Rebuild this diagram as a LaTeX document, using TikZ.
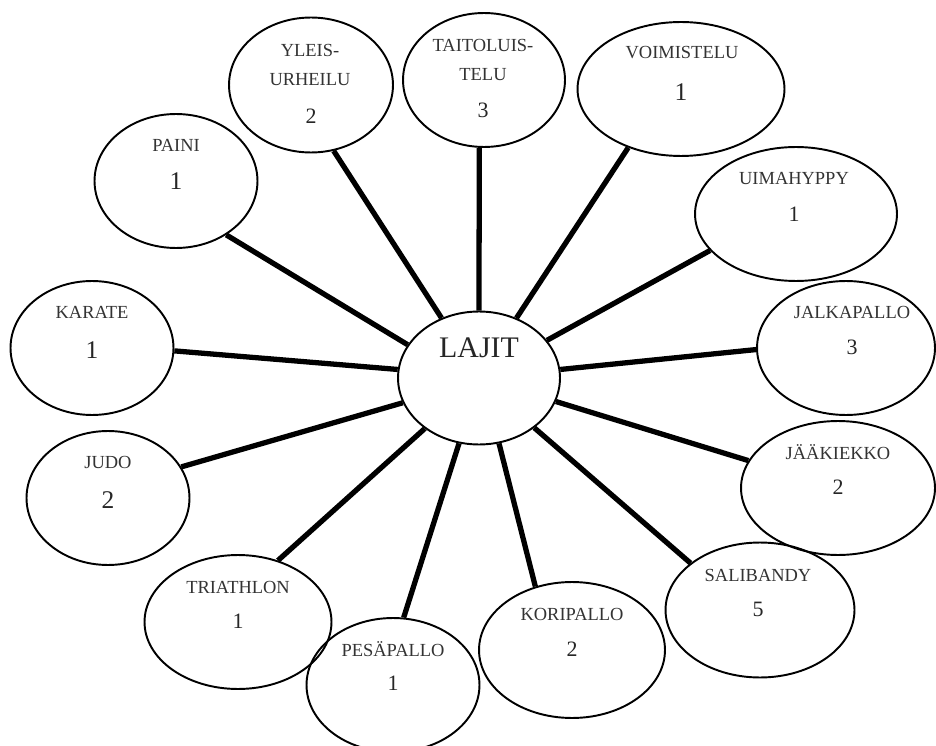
\documentclass[tikz,border=0pt]{standalone}
\usepackage{fontspec}
\setmainfont{Liberation Serif}
\usetikzlibrary{shapes.geometric}

\begin{document}
\begin{tikzpicture}[
  x=0.02cm, y=-0.02cm,
  laji/.style={ellipse, draw, line width=1.1pt, inner sep=0pt, minimum height=2.68cm},
  nimi/.style={font=\fontsize{10.5}{17}\selectfont, text=black!80, inner sep=0pt, align=center},
  luku/.style={font=\fontsize{12.5}{14}\selectfont, text=black!85, inner sep=0pt},
  iso/.style={font=\fontsize{14.5}{16}\selectfont, text=black!85, inner sep=0pt},
  yhteys/.style={line width=3pt}
]
  \useasboundingbox (0,0) rectangle (936,746);

  % Center
  \node[laji, minimum width=3.24cm, minimum height=2.66cm] (lajit) at (479,378) {};
  \node[font=\fontsize{17}{20}\selectfont, text=black!85, inner sep=0pt] (lajitT) at (479,348) {LAJIT};

  % Left side
  \node[laji, minimum width=3.26cm] (paini) at (176,181) {};
  \node[nimi] (painiN) at (176,145) {PAINI};
  \node[iso] (painiL) at (176,181) {1};

  \node[laji, minimum width=3.26cm] (karate) at (92,348) {};
  \node[nimi] (karateN) at (92,312) {KARATE};
  \node[iso] (karateL) at (92,350) {1};

  \node[laji, minimum width=3.26cm] (judo) at (108,498) {};
  \node[nimi] (judoN) at (108,462) {JUDO};
  \node[iso] (judoL) at (108,500) {2};

  \node[laji, minimum width=3.74cm] (tri) at (238,622) {};
  \node[nimi] (triN) at (238,587) {TRIATHLON};
  \node[luku] (triL) at (238,621) {1};

  % Top
  \node[laji, minimum width=3.28cm, minimum height=2.7cm] (yleis) at (311,85) {};
  \node[nimi] (yleisN) at (310,65) {YLEIS-\\URHEILU};
  \node[luku] (yleisL) at (311,116) {2};

  \node[laji, minimum width=3.24cm] (taito) at (484,80) {};
  \node[nimi] (taitoN) at (483,60) {TAITOLUIS-\\TELU};
  \node[luku] (taitoL) at (483,110) {3};

  \node[laji, minimum width=4.14cm] (voim) at (681,89) {};
  \node[nimi] (voimN) at (682,53) {VOIMISTELU};
  \node[iso] (voimL) at (681,92) {1};

  % Right side
  \node[laji, minimum width=4.04cm] (uima) at (796,214) {};
  \node[nimi] (uimaN) at (794,179) {UIMAHYPPY};
  \node[luku] (uimaL) at (794,214) {1};

  \node[laji, minimum width=3.56cm] (jalka) at (846,348) {};
  \node[nimi] (jalkaN) at (852,312) {JALKAPALLO};
  \node[luku] (jalkaL) at (852,347) {3};

  \node[laji, minimum width=3.88cm] (jaak) at (838,488) {};
  \node[nimi] (jaakN) at (838,452) {JÄÄKIEKKO};
  \node[luku] (jaakL) at (838,487) {2};

  \node[laji, minimum width=3.78cm, minimum height=2.7cm] (sali) at (760,610) {};
  \node[nimi] (saliN) at (758,575) {SALIBANDY};
  \node[luku] (saliL) at (758,609) {5};

  % Bottom
  \node[laji, minimum width=3.72cm, minimum height=2.72cm] (kori) at (572,650) {};
  \node[nimi] (koriN) at (572,614) {KORIPALLO};
  \node[luku] (koriL) at (572,649) {2};

  \node[laji, minimum width=3.46cm] (pesa) at (393,685) {};
  \node[nimi] (pesaN) at (393,649) {PESÄPALLO};
  \node[luku] (pesaL) at (393,683) {1};

  % Spokes
  \draw[yhteys] (lajit.122) -- (yleis.-71);
  \draw[yhteys] (lajit.155) -- (paini.-47);
  \draw[yhteys] (lajit.174) -- (karate.-2);
  \draw[yhteys] (lajit.90) -- (taito.-94);
  \draw[yhteys] (lajit.58) -- (voim.-132.5);
  \draw[yhteys] (lajit.29.6) -- (uima.-157.5);
  \draw[yhteys] (lajit.6) -- (jalka.181);
  \draw[yhteys] (lajit.-17) -- (jaak.163);
  \draw[yhteys] (lajit.-42) -- (sali.146);
  \draw[yhteys] (lajit.-73) -- (kori.120);
  \draw[yhteys] (lajit.-107) -- (pesa.81);
  \draw[yhteys] (lajit.-137) -- (tri.57.5);
  \draw[yhteys] (lajit.-162.5) -- (judo.23);

\end{tikzpicture}
\end{document}
